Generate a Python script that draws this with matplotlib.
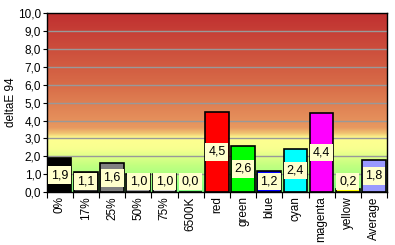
import numpy as np
import matplotlib.pyplot as plt
from matplotlib.colors import LinearSegmentedColormap

categories = ['0%', '17%', '25%', '50%', '75%', '6500K', 'red', 'green',
              'blue', 'cyan', 'magenta', 'yellow', 'Average']
values = [1.9, 1.1, 1.6, 1.0, 1.0, 0.0, 4.5, 2.6, 1.2, 2.4, 4.4, 0.2, 1.8]
bar_colors = ['#000000', '#404040', '#808080', '#a0a0a0', '#d0d0d0', '#ffffff',
              '#ff0000', '#00ff00', '#0000ff', '#00ffff', '#ff00ff', '#ffff00',
              '#9999ff']
yticks = [0, 1, 2, 3, 4, 5, 6, 7, 8, 9, 10]

plt.rcParams['font.family'] = ['Liberation Sans', 'DejaVu Sans']

fig = plt.figure(figsize=(3.95, 2.45), dpi=100)
ax = fig.add_axes([0.118, 0.216, 0.862, 0.73])

# background gradient
stops = [(0.0, '#80ff80'), (0.15, '#c4ff80'), (0.24, '#f8ff90'),
         (0.3, '#ffff90'), (0.33, '#f0c070'), (0.36, '#e89860'),
         (0.6, '#d86c48'), (1.0, '#c03030')]
cmap = LinearSegmentedColormap.from_list('bg', stops)
grad = np.linspace(0, 1, 400).reshape(-1, 1)
n = len(categories)
ax.imshow(grad, cmap=cmap, origin='lower', aspect='auto',
          extent=(-0.5, n - 0.5, 0, 10), zorder=0)

for yv in yticks[1:-1]:
    ax.axhline(yv, color='#999999', lw=1, zorder=1)

x = np.arange(n)
ax.bar(x, values, width=0.9, color=bar_colors, edgecolor='black',
       linewidth=1.2, zorder=2)

for xi, v in zip(x, values):
    ypos = max(v / 2, 0.6)
    ax.text(xi, ypos, f'{v:.1f}'.replace('.', ','), ha='center', va='center',
            fontsize=9, zorder=3,
            bbox=dict(boxstyle='square,pad=0.22', fc='#ffffcc', ec='none'))

ax.set_xlim(-0.5, n - 0.5)
ax.set_ylim(0, 10)
ax.set_yticks(yticks)
ax.set_yticklabels([f'{t:.1f}'.replace('.', ',') for t in yticks], fontsize=8.5)
ax.set_xticks(np.arange(n + 1) - 0.5)
ax.set_xticklabels([])
ax.set_xticks(x, minor=True)
ax.set_xticklabels(categories, minor=True, rotation=90, fontsize=8.5)
ax.tick_params(axis='x', which='minor', length=0, pad=3)
ax.tick_params(axis='x', which='major', length=4, direction='out')
ax.tick_params(axis='y', length=3, pad=1)
ax.set_ylabel('deltaE 94', fontsize=8.5, labelpad=1)
for s in ax.spines.values():
    s.set_color('black')
    s.set_linewidth(1)

fig.savefig('out.png', dpi=100)
